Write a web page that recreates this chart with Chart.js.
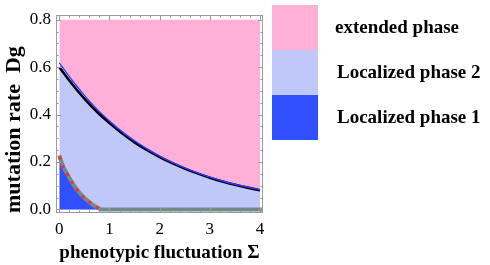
<!DOCTYPE html>
<html><head><meta charset="utf-8">
<script src="https://cdn.jsdelivr.net/npm/chart.js@4/dist/chart.umd.min.js"></script>
<style>
html,body{margin:0;padding:0;background:#fff;}
#wrap{position:relative;width:490px;height:265px;}
canvas{position:absolute;left:0;top:0;}
.box{position:absolute;left:272px;width:46px;}
.lab{position:absolute;font-family:"Liberation Serif",serif;font-weight:bold;font-size:19px;color:#000;white-space:nowrap;line-height:20px;}
</style></head>
<body><div id="wrap">
<canvas id="c" width="490" height="265"></canvas>
<div class="box" style="top:5px;height:45px;background:#ffb0d8"></div>
<div class="box" style="top:50px;height:45px;background:#c0c8fa"></div>
<div class="box" style="top:95px;height:45px;background:#3050ff"></div>
<div class="lab" style="left:335px;top:17px">extended phase</div>
<div class="lab" style="left:337px;top:62px">Localized phase 2</div>
<div class="lab" style="left:337px;top:107px">Localized phase 1</div>
</div>
<script>
// phenotypic fluctuation Σ sample points
const sigma = [0,0.25,0.5,0.75,1,1.25,1.5,1.75,2,2.25,2.5,2.75,3,3.25,3.5,3.75,4];
// upper boundary (blue line): extended / localized 2
const dgBlue  = [0.618,0.546,0.481,0.423,0.373,0.328,0.289,0.255,0.225,0.198,0.175,0.154,0.136,0.120,0.106,0.094,0.083];
// black line: localized phase 2 boundary
const dgBlack = [0.600,0.530,0.467,0.412,0.364,0.321,0.283,0.250,0.221,0.195,0.172,0.152,0.134,0.118,0.104,0.092,0.081];
// localized phase 1 boundary (gray)
const sigmaL1 = [0,0.08,0.16,0.25,0.35,0.48,0.6,0.7,0.8,0.82,2,3,4.06];
const dgL1    = [0.228,0.180,0.149,0.115,0.084,0.053,0.031,0.015,0.003,0,0,0,0];
// red dotted line
const sigmaRed = [0,0.08,0.16,0.25,0.35,0.48,0.6,0.7,0.8];
const dgRed    = [0.222,0.178,0.149,0.115,0.084,0.053,0.031,0.015,0.0];
// tick labels
const xTicks = [0,1,2,3,4];
const yTicks = [0,0.2,0.4,0.6,0.8];

const pts = (xs, ys) => xs.map((x,i)=>({x:x, y:ys[i]}));

const tickPlugin = {
  id:'frameTicks',
  afterDraw(chart){
    const ctx = chart.ctx, a = chart.chartArea;
    const xs = chart.scales.x, ys = chart.scales.y;
    ctx.save();
    ctx.strokeStyle = '#9a9a9a';
    ctx.lineWidth = 1;
    ctx.strokeRect(Math.round(a.left)+0.5, Math.round(a.top)+0.5, Math.round(a.right-a.left)-1, Math.round(a.bottom-a.top)-1);
    ctx.beginPath();
    for (let i=0;i<=20;i++){
      const v = i*0.2;
      const px = Math.round(xs.getPixelForValue(v))+0.5;
      const len = (i%5===0)?5:2.5;
      ctx.moveTo(px, a.bottom); ctx.lineTo(px, a.bottom-len);
      ctx.moveTo(px, a.top); ctx.lineTo(px, a.top+len);
    }
    for (let i=0;i<=16;i++){
      const v = i*0.05;
      const py = Math.round(ys.getPixelForValue(v))+0.5;
      const len = (i%4===0)?5:2.5;
      ctx.moveTo(a.left, py); ctx.lineTo(a.left+len, py);
      ctx.moveTo(a.right, py); ctx.lineTo(a.right-len, py);
    }
    ctx.stroke();
    ctx.restore();
  }
};

new Chart(document.getElementById('c'), {
  type:'line',
  data:{datasets:[
    {data:pts(sigma,dgBlue), fill:{value:0.8}, backgroundColor:'#ffb0d8', borderWidth:0, pointRadius:0, order:10, cubicInterpolationMode:'monotone'},
    {data:pts(sigma,dgBlack), fill:'origin', backgroundColor:'#c0c8fa', borderWidth:0, pointRadius:0, order:9, cubicInterpolationMode:'monotone'},
    {data:pts(sigmaL1,dgL1), fill:'origin', backgroundColor:'#3050ff', borderColor:'#718b8b', borderWidth:4, pointRadius:0, order:8, cubicInterpolationMode:'monotone'},
    {data:pts(sigmaRed,dgRed), fill:false, borderColor:'#ff2a2a', borderWidth:3, borderDash:[3,6], pointRadius:0, order:7, cubicInterpolationMode:'monotone'},
    {data:pts(sigma,dgBlack), fill:false, borderColor:'#000000', borderWidth:2.6, pointRadius:0, order:6, cubicInterpolationMode:'monotone'},
    {data:pts(sigma,dgBlue), fill:false, borderColor:'#2a3cff', borderWidth:1.4, pointRadius:0, order:5, cubicInterpolationMode:'monotone'}
  ]},
  options:{
    responsive:false, animation:false, devicePixelRatio:1,
    layout:{padding:{left:0,top:5,right:227,bottom:0}},
    plugins:{legend:{display:false}, tooltip:{enabled:false}},
    scales:{
      x:{type:'linear', min:-0.066, max:4.06,
        afterBuildTicks:s=>{s.ticks = xTicks.map(v=>({value:v}));},
        afterFit:s=>{s.height=52;},
        grid:{display:false, drawTicks:false},
        border:{display:false},
        ticks:{padding:6, color:'#000', font:{family:'"Liberation Serif", serif', size:17}, callback:v=>String(v), maxRotation:0},
        title:{display:true, text:'phenotypic fluctuation Σ', color:'#000', padding:{top:0,bottom:1},
          font:{family:'"Liberation Serif", serif', size:19, weight:'bold'}}
      },
      y:{type:'linear', min:-0.015, max:0.819,
        afterBuildTicks:s=>{s.ticks = yTicks.map(v=>({value:v}));},
        afterFit:s=>{s.width=56;},
        grid:{display:false, drawTicks:false},
        border:{display:false},
        ticks:{padding:5, color:'#000', font:{family:'"Liberation Serif", serif', size:17}, callback:v=>v.toFixed(1)},
        title:{display:true, text:'mutation rate  Dg', color:'#000', align:'start', padding:{top:1,bottom:0},
          font:{family:'"Liberation Serif", serif', size:22, weight:'bold'}}
      }
    }
  },
  plugins:[tickPlugin]
});
</script>
</body></html>
